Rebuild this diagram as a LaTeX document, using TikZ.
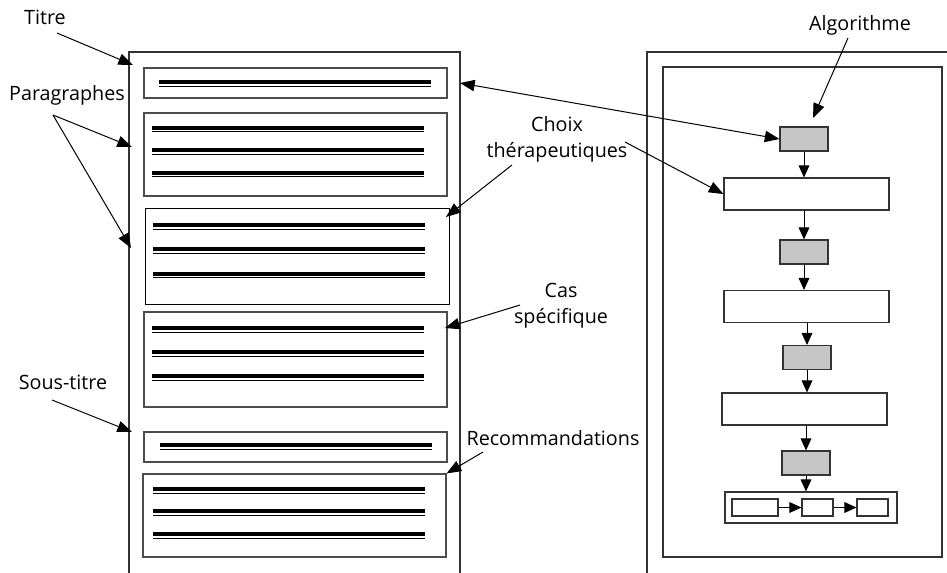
\documentclass[tikz,border=0pt]{standalone}
\usepackage{fontspec}
\setmainfont{Open Sans}
\usetikzlibrary{arrows.meta,fit}

\tikzset{
  page/.style={draw=black!80, line width=0.9pt},
  txtbox/.style={draw=black!70, line width=0.8pt, inner sep=0pt},
  algobox/.style={draw=black!80, line width=0.8pt, fill=white, inner sep=0pt, minimum width=123.75pt, minimum height=24pt},
  etapebox/.style={draw=black!80, line width=0.8pt, fill=gray!45, inner sep=0pt, minimum width=36pt, minimum height=18pt},
  petitbox/.style={draw=black!80, line width=0.8pt, fill=white, inner sep=0pt, minimum height=12.75pt},
  lbl/.style={font=\fontsize{14.8}{19.5}\selectfont, align=center, inner sep=0.75pt},
  ptr/.style={-{Triangle[length=11pt,width=8.5pt]}, line width=0.75pt},
  flux/.style={-{Triangle[length=9pt,width=8pt]}, line width=0.75pt},
}
% une ligne de texte : trait epais + trait fin
\newcommand{\txtligne}[3]{%
  \draw[line width=3pt] (#1,#3) -- (#2,#3);
  \draw[line width=0.7pt] (#1,#3+4) -- (#2,#3+4);
}

\begin{document}
\begin{tikzpicture}[x=0.75pt,y=0.75pt,yscale=-1,xscale=1]
\useasboundingbox (0,0) rectangle (947,572);

%Page gauche
\draw[page] (129,590) |- (460,52) -- (460,590);
%Boites de texte
\node[txtbox, fit={(144,68) (447,98)}] (titrebox) {};
\node[txtbox, fit={(144,113) (447,196)}] (para1) {};
\node[txtbox, draw=black, line width=0.7pt, fit={(145,208) (449,304)}] (para2) {};
\node[txtbox, fit={(144,312) (447,407)}] (para3) {};
\node[txtbox, fit={(144,432) (447,462)}] (stitrebox) {};
\node[txtbox, fit={(143,474) (446,557)}] (recobox) {};
%Lignes
\txtligne{159}{431}{82}
\foreach \y in {127.5,150,172.5} {\txtligne{152}{424}{\y}}
\foreach \y in {225,249,273.5} {\txtligne{153}{425}{\y}}
\foreach \y in {328,352,376} {\txtligne{152}{424}{\y}}
\txtligne{160}{432}{445}
\foreach \y in {489,511,534} {\txtligne{153}{425}{\y}}

%Page droite
\draw[page] (647,590) |- (960,52);
\draw[page] (663,67) rectangle (942,557);
%Algorithme
\node[etapebox] (g1) at (804,139) {};
\node[algobox] (w1) at (806.5,194) {};
\node[etapebox] (g2) at (804,252) {};
\node[algobox] (w2) at (806.5,306.5) {};
\node[etapebox] (g3) at (807,357.5) {};
\node[algobox] (w3) at (804.5,409) {};
\node[etapebox] (g4) at (806,463) {};
\node[algobox, minimum width=129pt, minimum height=23.25pt] (groupe) at (811,507.5) {};
\node[petitbox, minimum width=34.5pt] (b1) at (755,507.5) {};
\node[petitbox, minimum width=23.25pt] (b2) at (817.5,507.5) {};
\node[petitbox, minimum width=23.25pt] (b3) at (872.5,507.5) {};
\draw[flux] (g1.south) -- (g1.south |- w1.north);
\draw[flux] (g2.north |- w1.south) -- (g2.north);
\draw[flux] (g2.south) -- (g2.south |- w2.north);
\draw[flux] (g3.north |- w2.south) -- (g3.north);
\draw[flux] (g3.south) -- (g3.south |- w3.north);
\draw[flux] (g4.north |- w3.south) -- (g4.north);
\draw[flux] (g4.south) -- (g4.south |- groupe.north);
\draw[flux] (b1) -- (b2);
\draw[flux] (b2) -- (b3);

%Etiquettes
\node[lbl] (titre) at (45,17) {Titre};
\node[lbl] (paras) at (67,95) {Paragraphes};
\node[lbl] (soustitre) at (63,382) {Sous-titre};
\node[lbl] (choix) at (557,139) {Choix\\thérapeutiques};
\node[lbl] (cas) at (561,306) {Cas\\spécifique};
\node[lbl] (reco) at (553,438) {Recommandations};
\node[lbl] (algo) at (860,25) {Algorithme};

%Fleches
\coordinate (titreq) at (57,33);
\coordinate (titret) at (133,65);
\coordinate (parasq) at (53,115);
\coordinate (para1t) at (132,147);
\coordinate (para2t) at (131,248);
\coordinate (stitreq) at (52,400);
\coordinate (stitret) at (132,432);
\coordinate (choixq1) at (512,165);
\coordinate (choixq2) at (625,142);
\coordinate (choixt) at (446,217);
\coordinate (casq) at (520,305);
\coordinate (cast) at (445,328);
\coordinate (recoq) at (483,452);
\coordinate (algoq) at (848,38);
\coordinate (algot) at (813,118);
\coordinate (lien) at (460,83);
\draw[ptr] (titreq) -- (titret);
\draw[ptr] (parasq) -- (para1t);
\draw[ptr] (parasq) -- (para2t);
\draw[ptr] (stitreq) -- (stitret);
\draw[ptr] (choixq1) -- (choixt);
\draw[ptr] (choixq2) -- (w1.west);
\draw[ptr] (casq) -- (cast);
\draw[ptr] (recoq) -- (recobox.north east);
\draw[ptr] (algoq) -- (algot);
\draw[{Triangle[length=11pt,width=8.5pt]}-{Triangle[length=11pt,width=8.5pt]}, line width=0.75pt] (lien) -- (g1.west);

\end{tikzpicture}
\end{document}
